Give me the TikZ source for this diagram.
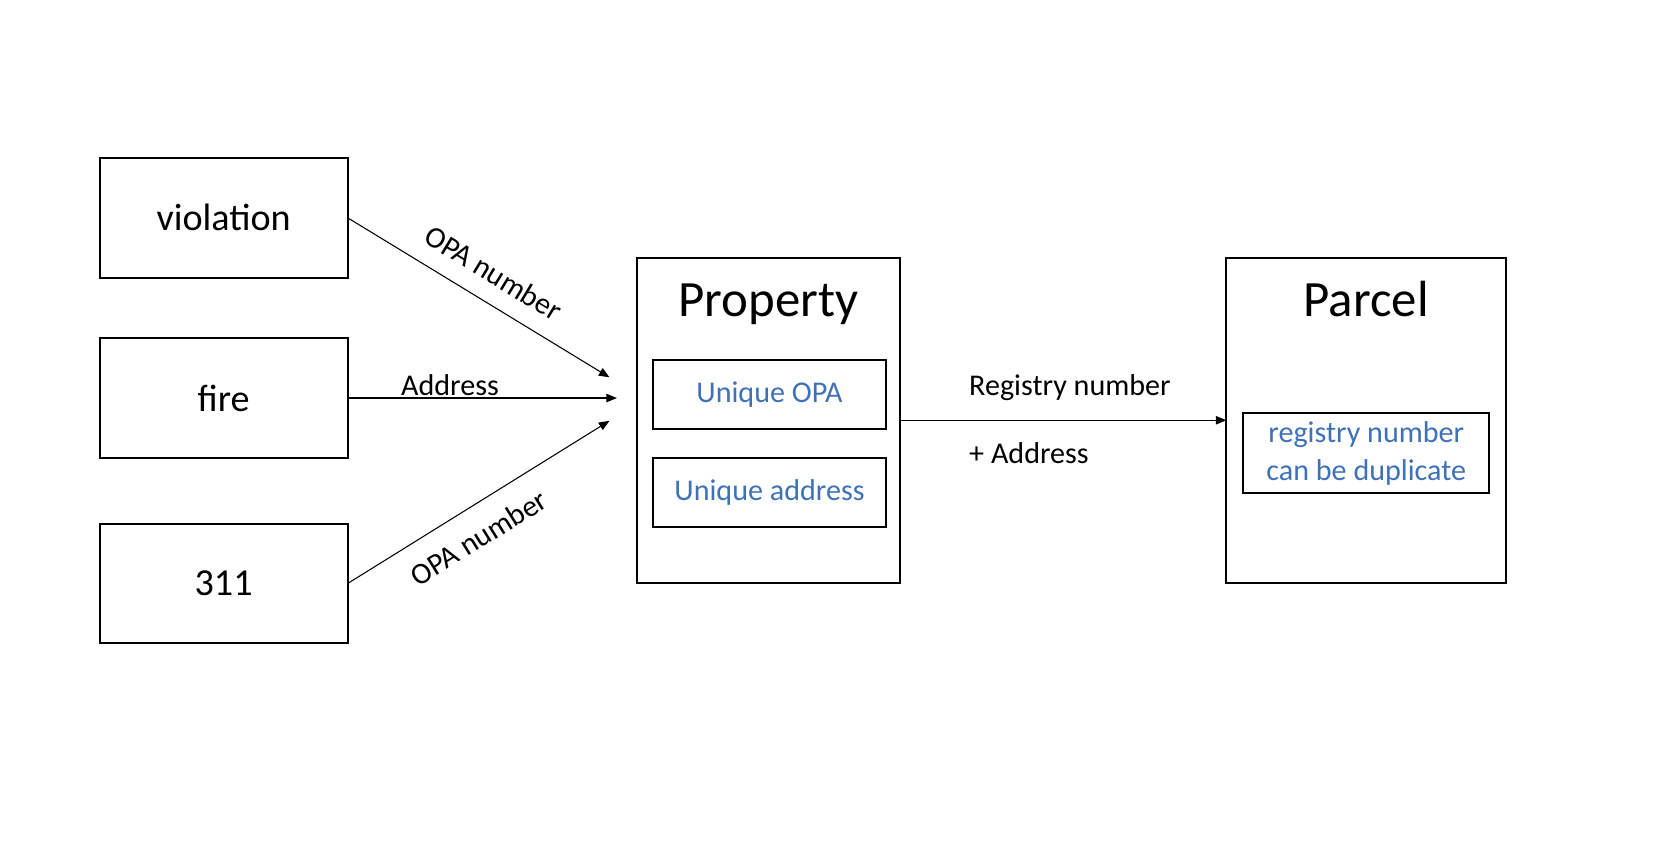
\documentclass[tikz,border=0pt]{standalone}
\usepackage{fontspec}
\setmainfont{Carlito}
\usetikzlibrary{arrows.meta}
\definecolor{officeblue}{HTML}{3F71B8}
\begin{document}
\begin{tikzpicture}[
        x=0.5pt, y=-0.5pt,
        box/.style={draw, line width=1pt, outer sep=0pt, minimum width=117pt, minimum height=56.5pt, font=\fontsize{18}{22}\selectfont},
        bigbox/.style={draw, line width=1pt, outer sep=0pt, minimum height=153.5pt},
        title/.style={anchor=base, font=\fontsize{24}{29}\selectfont},
        field/.style={draw, line width=1pt, outer sep=0pt, text=officeblue, align=center, font=\fontsize{14.2}{18}\selectfont},
        lbl/.style={font=\fontsize{14.2}{17}\selectfont},
        arrow/.style={-{Triangle[length=5pt, width=4pt]}, line width=0.5pt}
    ]
    \useasboundingbox (0,0) rectangle (1568,806);
    % Nodes
    \node[box] (violation) at (211, 205.5) {violation};
    \node[box] (fire) at (211, 375.5) {fire};
    \node[box] (call311) at (211, 550.5) {311};
    \node[bigbox, minimum width=124pt] (property) at (725, 396.5) {};
    \node[title] (propertytitle) at ([yshift=-28pt]property.north) {Property};
    \node[field, minimum width=110pt, minimum height=32.5pt] (uniqueopa) at (726, 372.5) {Unique OPA};
    \node[field, minimum width=110pt, minimum height=32.5pt] (uniqueaddr) at (726, 464.5) {Unique address};
    \node[bigbox, minimum width=132pt] (parcel) at (1289, 396.5) {};
    \node[title] (parceltitle) at ([yshift=-28pt]parcel.north) {Parcel};
    \node[field, minimum width=116pt, minimum height=37.5pt] (registryfield) at (1289, 427.5) {registry number\\can be duplicate};
    \node[lbl, anchor=west, inner sep=0pt] (regnum) at (914, 366) {Registry number};
    \node[lbl, anchor=west, inner sep=0pt] (plusaddr) at (914, 428) {+ Address};
    % Edges
    \coordinate (topend) at (575, 356);
    \coordinate (midend) at (582, 375.5);
    \coordinate (lowend) at (575, 397);
    \draw[arrow] (violation.east) -- node[lbl, sloped, above=5pt, pos=0.5] (opatop) {OPA number} (topend);
    \draw[arrow] (fire.east) -- node[lbl, above, pos=0.38, inner sep=1pt] (addrlbl) {Address} (midend);
    \draw[arrow] (call311.east) -- node[lbl, sloped, below, pos=0.44, inner sep=9pt] (opalow) {OPA number} (lowend);
    \draw[arrow] (property.east) -- (parcel.west);
\end{tikzpicture}
\end{document}
